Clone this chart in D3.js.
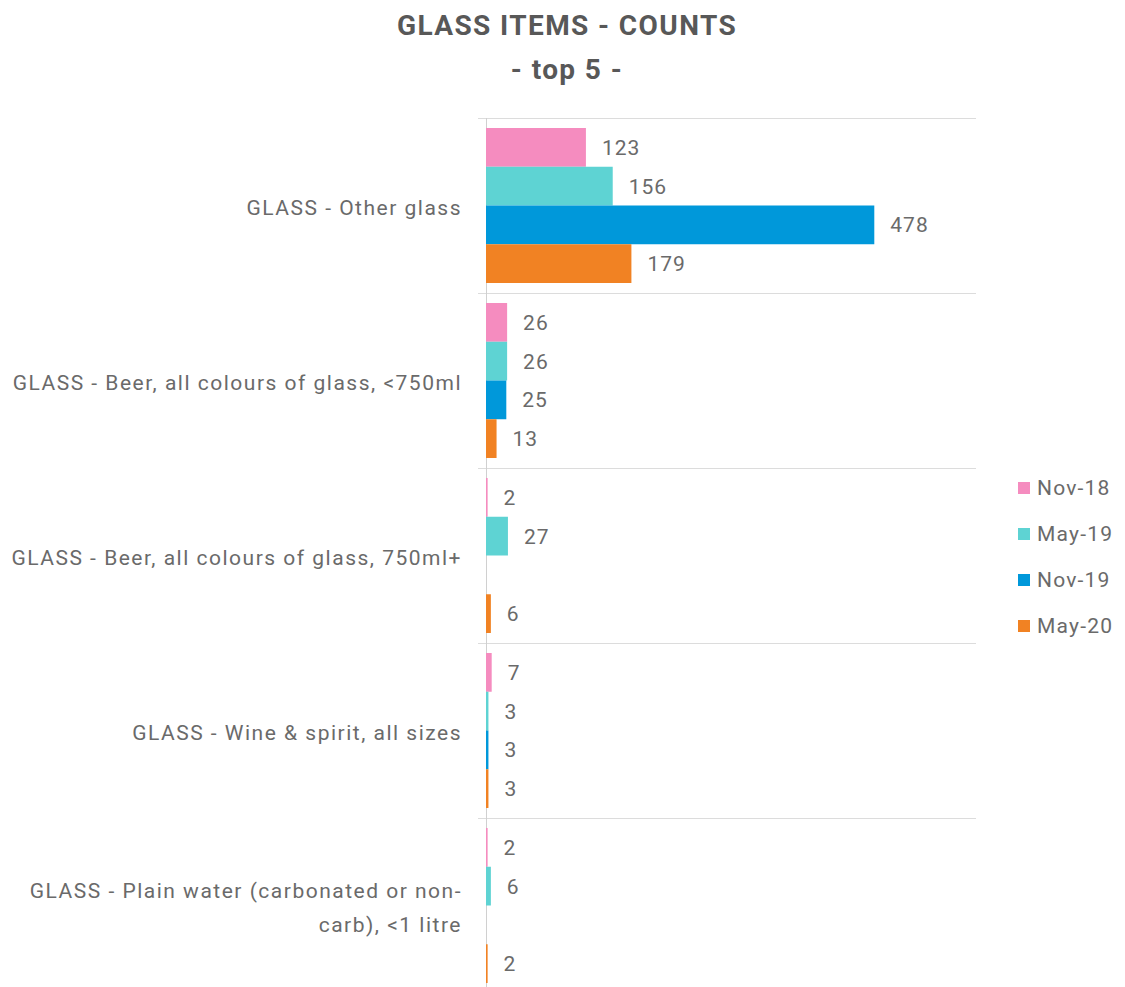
<!DOCTYPE html>
<html><head><meta charset="utf-8">
<script src="https://cdn.jsdelivr.net/npm/d3@7"></script>
<style>
html,body{margin:0;padding:0;background:#fff;}
svg{display:block;font-family:Roboto, "DejaVu Sans", sans-serif;}
</style></head>
<body>
<svg id="chart" width="1125" height="987"></svg>
<script>
const categories = [
  "GLASS - Other glass",
  "GLASS - Beer, all colours of glass, <750ml",
  "GLASS - Beer, all colours of glass, 750ml+",
  "GLASS - Wine & spirit, all sizes",
  "GLASS - Plain water (carbonated or non-carb), <1 litre"
];
const categoryLines = [
  ["GLASS - Other glass"],
  ["GLASS - Beer, all colours of glass, <750ml"],
  ["GLASS - Beer, all colours of glass, 750ml+"],
  ["GLASS - Wine & spirit, all sizes"],
  ["GLASS - Plain water (carbonated or non-", "carb), <1 litre"]
];
const seriesNames = ["Nov-18", "May-19", "Nov-19", "May-20"];
const nov18 = [123, 26, 2, 7, 2];
const may19 = [156, 26, 27, 3, 6];
const nov19 = [478, 25, null, 3, null];
const may20 = [179, 13, 6, 3, 2];
const colors = ["#F58CBF", "#5ED3D3", "#0098DA", "#F18223"];

const seriesValues = [nov18, may19, nov19, may20];
const svg = d3.select("#chart");
const textCol = "#6a6a6a";

// title
svg.append("text").attr("x", 567).attr("y", 35).attr("text-anchor", "middle")
  .attr("font-size", 28).attr("font-weight", "bold").attr("fill", "#585858")
  .attr("letter-spacing", 1.4)
  .text("GLASS ITEMS - COUNTS");
svg.append("text").attr("x", 567).attr("y", 79).attr("text-anchor", "middle")
  .attr("font-size", 28).attr("font-weight", "bold").attr("fill", "#585858")
  .attr("letter-spacing", 1.4)
  .text("- top 5 -");

const y0 = d3.scaleBand().domain(categories).range([118, 993]).paddingInner(0);
const y1 = d3.scaleBand().domain(seriesNames).range([10, y0.bandwidth() - 10]);
const x = d3.scaleLinear().domain([0, 600]).range([486, 973.4]);

// separators
const seps = categories.map(c => y0(c)).concat([y0.range()[1]]);
svg.append("g").selectAll("line").data(seps).join("line")
  .attr("x1", 478).attr("x2", 976).attr("y1", d => d + 0.5).attr("y2", d => d + 0.5)
  .attr("stroke", "#dcdcdc").attr("stroke-width", 1);

// axis line
svg.append("line").attr("x1", x(0) + 0.5).attr("x2", x(0) + 0.5)
  .attr("y1", 118).attr("y2", 993).attr("stroke", "#d0d0d0");

// bars
const groups = svg.append("g").selectAll("g").data(categories).join("g")
  .attr("transform", d => `translate(0,${y0(d)})`);

groups.each(function(cat, ci) {
  const g = d3.select(this);
  const rows = seriesNames.map((s, si) => ({s, si, v: seriesValues[si][ci]})).filter(d => d.v != null);
  g.selectAll("rect").data(rows).join("rect")
    .attr("x", x(0)).attr("y", d => y1(d.s))
    .attr("width", d => x(d.v) - x(0)).attr("height", y1.bandwidth())
    .attr("fill", d => colors[d.si]);
  g.selectAll("text.val").data(rows).join("text").attr("class", "val")
    .attr("x", d => x(d.v) + 16).attr("y", d => y1(d.s) + y1.bandwidth() / 2 + 2)
    .attr("dominant-baseline", "middle").attr("letter-spacing", 1)
    .attr("font-size", 21).attr("fill", textCol).text(d => d.v);
});

// category labels
const lab = svg.append("g").selectAll("text").data(categories).join("text")
  .attr("text-anchor", "end").attr("font-size", 21).attr("fill", textCol)
  .attr("letter-spacing", 1.5)
  .attr("x", 462)
  .attr("y", (d, i) => {
    const n = categoryLines[i].length;
    return y0(d) + y0.bandwidth() / 2 + 2 - (n - 1) * 17;
  });
lab.each(function(d, i) {
  d3.select(this).selectAll("tspan").data(categoryLines[i]).join("tspan")
    .attr("x", 462).attr("dy", (t, j) => j === 0 ? "0.35em" : 34).text(t => t);
});

// legend
const leg = svg.append("g").selectAll("g").data(seriesNames).join("g")
  .attr("transform", (d, i) => `translate(1018,${488 + i * 46})`);
leg.append("rect").attr("x", 0).attr("y", -6).attr("width", 12).attr("height", 12)
  .attr("fill", (d, i) => colors[i]);
leg.append("text").attr("x", 19).attr("y", 1).attr("dominant-baseline", "middle")
  .attr("letter-spacing", 1.2)
  .attr("font-size", 21).attr("fill", textCol).text(d => d);
</script>
</body></html>
